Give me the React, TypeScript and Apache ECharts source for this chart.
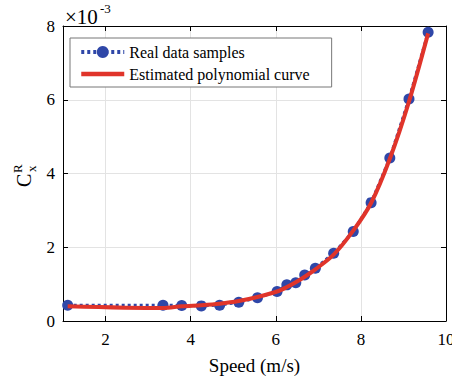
import React, { useEffect, useRef } from "react";
import * as echarts from "echarts";

const speed = [1.11, 3.35, 3.79, 4.25, 4.68, 5.13, 5.57, 6.03, 6.26, 6.47, 6.68, 6.93, 7.36, 7.82, 8.24, 8.68, 9.13, 9.58];
const realData = [0.43, 0.43, 0.42, 0.41, 0.43, 0.51, 0.63, 0.8, 0.98, 1.04, 1.25, 1.43, 1.84, 2.43, 3.21, 4.42, 6.02, 7.83];
const fitted = [0.4, 0.35, 0.4, 0.43, 0.47, 0.54, 0.65, 0.8, 0.92, 1.05, 1.2, 1.4, 1.8, 2.45, 3.2, 4.4, 5.95, 7.8];
const xTicks = [2, 4, 6, 8, 10];

const FONT = "Liberation Serif";

export default function App() {
  const ref = useRef<HTMLDivElement>(null);
  useEffect(() => {
    const chart = echarts.init(ref.current!, undefined, { renderer: "svg" });
    const xBase = {
      type: "value" as const,
      min: 1,
      max: 10,
      axisLine: { show: true, onZero: false, lineStyle: { color: "#000", width: 1 } },
      axisTick: { show: true, inside: true, length: 5, customValues: xTicks, lineStyle: { color: "#000" } },
    };
    const yBase = {
      type: "value" as const,
      min: 0,
      max: 8,
      interval: 2,
      axisLine: { show: true, onZero: false, lineStyle: { color: "#000", width: 1 } },
      axisTick: { show: true, inside: true, length: 5, lineStyle: { color: "#000" } },
    };
    chart.setOption({
      animation: false,
      backgroundColor: "#fff",
      grid: { left: 63, right: 6, top: 26, bottom: 56, containLabel: false, outerBoundsMode: "none" },
      legend: {
        orient: "vertical",
        left: 70,
        top: 38,
        padding: [6, 22, 5, 9],
        itemGap: 6,
        itemWidth: 43,
        itemHeight: 15,
        borderColor: "#777",
        borderWidth: 1,
        backgroundColor: "#fff",
        textStyle: { fontFamily: FONT, fontSize: 16, color: "#000" },
        data: [
          { name: "Real data samples", lineStyle: { width: 4 } },
          { name: "Estimated polynomial curve", itemStyle: { opacity: 0 }, lineStyle: { width: 4.5, color: "#e0342a" } },
        ],
      },
      xAxis: [
        {
          ...xBase,
          position: "bottom",
          name: "Speed (m/s)",
          nameLocation: "middle",
          nameGap: 35,
          nameTextStyle: { fontFamily: FONT, fontSize: 19, color: "#000" },
          axisLabel: { customValues: xTicks, fontFamily: FONT, fontSize: 17, color: "#000", margin: 10 },
          splitLine: { show: true, lineStyle: { color: "#e3e3e3", width: 1 } },
        },
        {
          ...xBase,
          position: "top",
          axisLabel: { show: false },
          splitLine: { show: false },
        },
      ],
      yAxis: [
        {
          ...yBase,
          position: "left",
          axisLabel: { fontFamily: FONT, fontSize: 17, color: "#000", margin: 8 },
          splitLine: { show: true, lineStyle: { color: "#e3e3e3", width: 1 } },
        },
        {
          ...yBase,
          position: "right",
          axisLabel: { show: false },
          splitLine: { show: false },
        },
      ],
      graphic: [
        {
          type: "group",
          x: 65,
          y: 17,
          children: [
            { type: "text", x: 0, y: 0, style: { text: "×10", fontFamily: FONT, fontSize: 21, fill: "#000", textAlign: "left", textVerticalAlign: "middle" } },
            { type: "text", x: 35, y: -9, style: { text: "-3", fontFamily: FONT, fontSize: 13, fill: "#000", textAlign: "left", textVerticalAlign: "middle" } },
          ],
        },
        {
          type: "group",
          x: 32,
          y: 174,
          rotation: Math.PI / 2,
          children: [
            { type: "text", x: -13, y: -8, style: { text: "C", fontFamily: FONT, fontSize: 20, fill: "#000", textAlign: "left", textVerticalAlign: "middle" } },
            { type: "text", x: 1, y: -15, style: { text: "R", fontFamily: FONT, fontSize: 13, fill: "#000", textAlign: "left", textVerticalAlign: "middle" } },
            { type: "text", x: 2, y: -1, style: { text: "x", fontFamily: FONT, fontSize: 13, fill: "#000", textAlign: "left", textVerticalAlign: "middle" } },
          ],
        },
      ],
      series: [
        {
          name: "Real data samples",
          type: "line",
          data: speed.map((s, i) => [s, realData[i]]),
          symbol: "circle",
          symbolSize: 11,
          lineStyle: { type: [3, 3], width: 3, color: "#2f47a8" },
          itemStyle: { color: "#2f47a8" },
          z: 2,
        },
        {
          name: "Estimated polynomial curve",
          type: "line",
          data: speed.map((s, i) => [s, fitted[i]]),
          symbol: "none",
          smooth: 0.3,
          lineStyle: { width: 4, color: "#e0342a" },
          itemStyle: { color: "#e0342a" },
          z: 3,
        },
      ],
    });
    return () => chart.dispose();
  }, []);
  return <div ref={ref} style={{ position: "fixed", left: 0, top: 0, width: 452, height: 377 }} />;
}
